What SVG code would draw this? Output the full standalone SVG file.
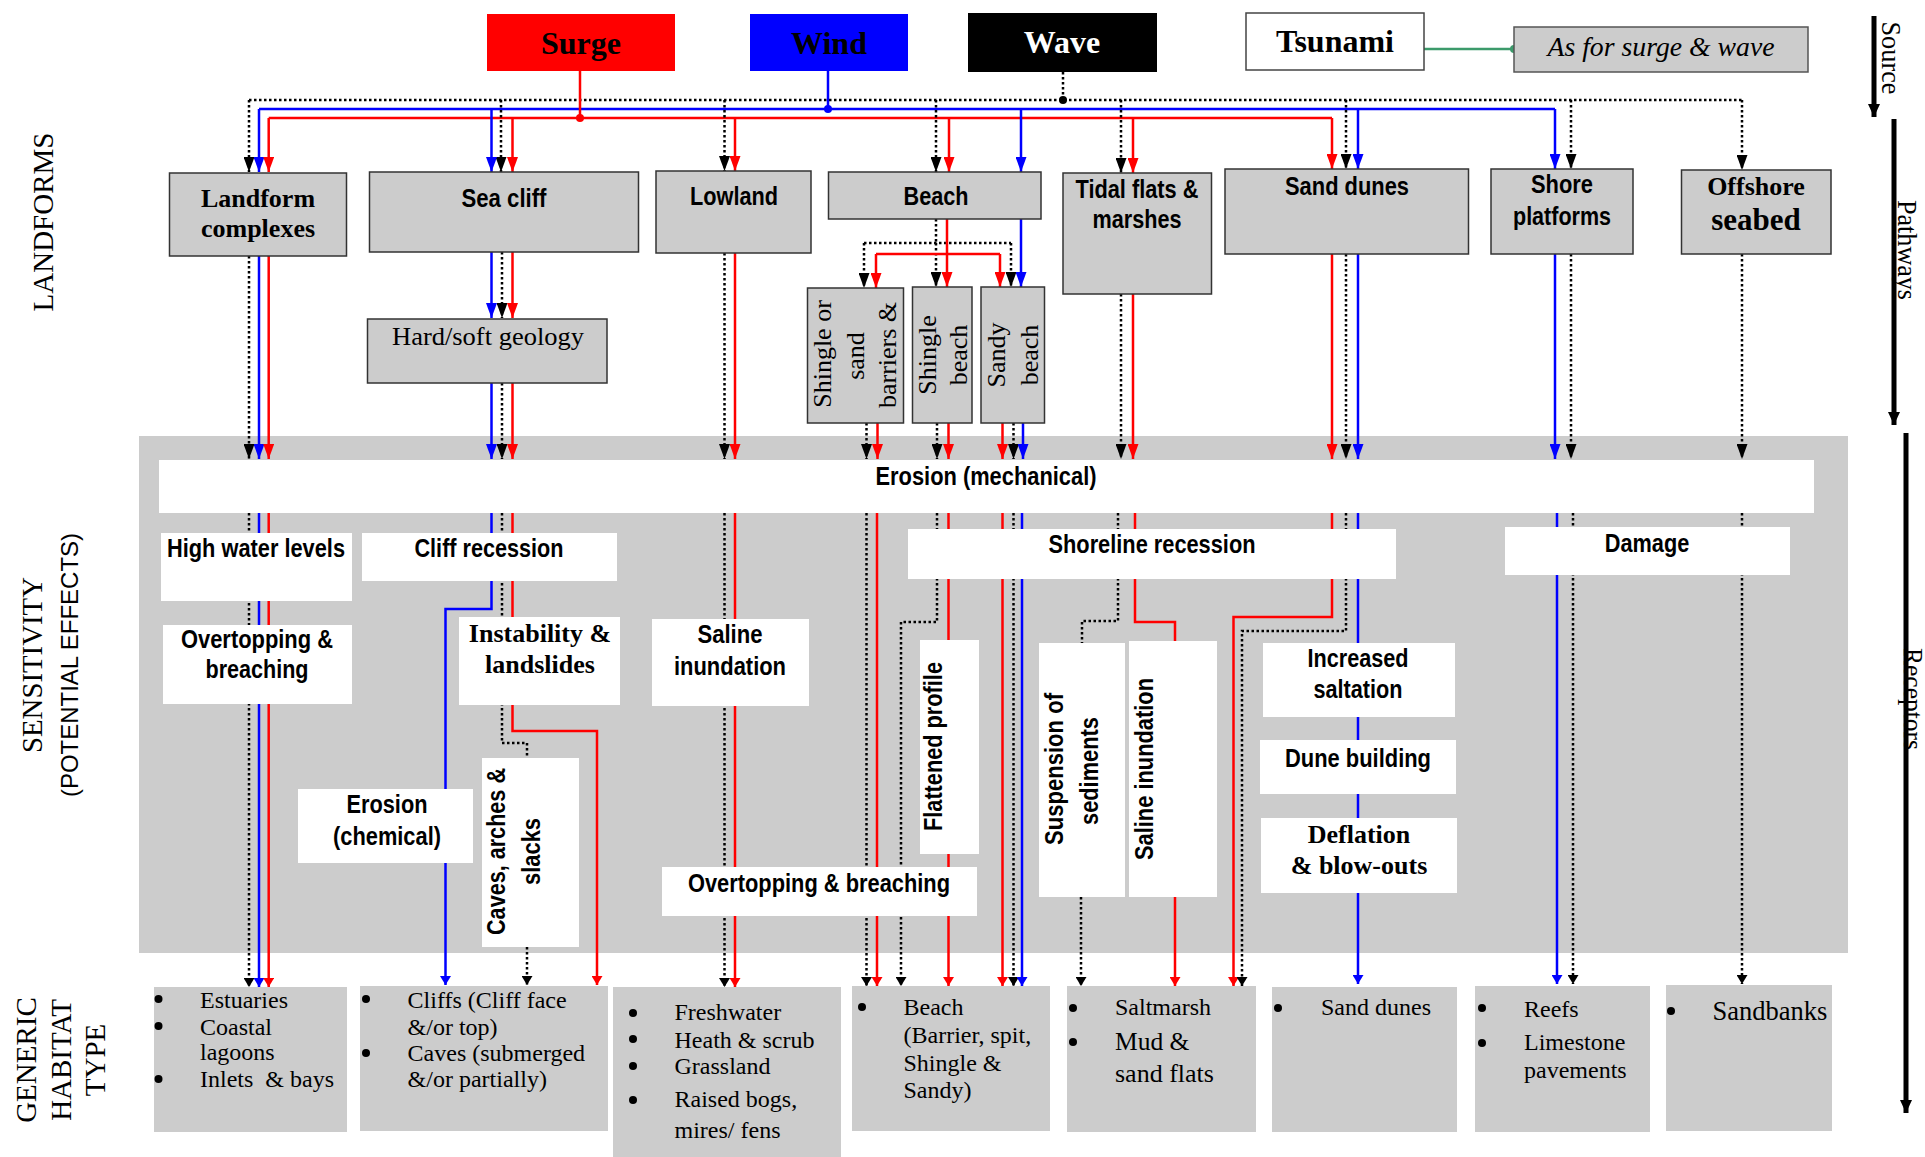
<svg xmlns="http://www.w3.org/2000/svg" width="1925" height="1157" viewBox="0 0 1925 1157">
<style>
.r{stroke:#f00;stroke-width:2.5;fill:none}
.b{stroke:#00f;stroke-width:2.5;fill:none}
.k{stroke:#000;stroke-width:2.5;fill:none;stroke-dasharray:2.5 2.5}
.ax{stroke:#000;stroke-width:5;fill:none}
.lf{fill:#ccc;stroke:#333;stroke-width:1.5}
.wb{fill:#fff}
.hb{fill:#ccc}
.sb{font-family:"Liberation Sans",Arial,sans-serif;font-weight:bold;font-size:25px;text-anchor:middle;fill:#000}
.tb{font-family:"Liberation Serif","Times New Roman",serif;font-weight:bold;font-size:26px;text-anchor:middle;fill:#000}
.tr{font-family:"Liberation Serif","Times New Roman",serif;font-size:26px;text-anchor:middle;fill:#000}
.src{font-family:"Liberation Serif","Times New Roman",serif;font-weight:bold;font-size:32px;text-anchor:middle}
.t{font-family:"Liberation Serif","Times New Roman",serif;font-size:24px;fill:#000}
.lab{font-family:"Liberation Serif","Times New Roman",serif;font-size:29px;text-anchor:middle;fill:#000}
.ax-lab{font-family:"Liberation Serif","Times New Roman",serif;font-size:27px;text-anchor:middle;fill:#000}
</style>
<defs>
<marker id="ar" viewBox="0 0 15 11" refX="15" refY="5.5" markerWidth="15" markerHeight="11" markerUnits="userSpaceOnUse" orient="auto"><path d="M0,0 L15,5.5 L0,11z" fill="#f00"/></marker>
<marker id="ab" viewBox="0 0 15 11" refX="15" refY="5.5" markerWidth="15" markerHeight="11" markerUnits="userSpaceOnUse" orient="auto"><path d="M0,0 L15,5.5 L0,11z" fill="#00f"/></marker>
<marker id="ak" viewBox="0 0 15 11" refX="15" refY="5.5" markerWidth="15" markerHeight="11" markerUnits="userSpaceOnUse" orient="auto"><path d="M0,0 L15,5.5 L0,11z" fill="#000"/></marker>
<marker id="sr" viewBox="0 0 9 11" refX="9" refY="5.5" markerWidth="9" markerHeight="11" markerUnits="userSpaceOnUse" orient="auto"><path d="M0,0 L9,5.5 L0,11z" fill="#f00"/></marker>
<marker id="sbm" viewBox="0 0 9 11" refX="9" refY="5.5" markerWidth="9" markerHeight="11" markerUnits="userSpaceOnUse" orient="auto"><path d="M0,0 L9,5.5 L0,11z" fill="#00f"/></marker>
<marker id="sk" viewBox="0 0 9 11" refX="9" refY="5.5" markerWidth="9" markerHeight="11" markerUnits="userSpaceOnUse" orient="auto"><path d="M0,0 L9,5.5 L0,11z" fill="#000"/></marker>
<marker id="big" viewBox="0 0 13 12" refX="13" refY="6" markerWidth="13" markerHeight="12" markerUnits="userSpaceOnUse" orient="auto"><path d="M0,0 L13,6 L0,12z" fill="#000"/></marker>
</defs>
<rect width="1925" height="1157" fill="#fff"/>

<g id="sensitivity-band"><rect x="139" y="436" width="1709" height="517" fill="#ccc"/></g>

<g id="habitats">
<g id="h-estuaries"><rect class="hb" x="154" y="987" width="193" height="145"/>
<circle cx="158.5" cy="999" r="4"/><circle cx="158.5" cy="1026" r="4"/><circle cx="158.5" cy="1079" r="4"/>
<text class="t" x="200" y="1008">Estuaries</text><text class="t" x="200" y="1035">Coastal</text><text class="t" x="200" y="1060">lagoons</text><text class="t" x="200" y="1087">Inlets&#160; &amp; bays</text></g>
<g id="h-cliffs"><rect class="hb" x="360" y="986" width="248" height="145"/>
<circle cx="366" cy="999" r="4"/><circle cx="366" cy="1053" r="4"/>
<text class="t" x="407.6" y="1008">Cliffs (Cliff face</text><text class="t" x="407.6" y="1035">&amp;/or top)</text><text class="t" x="407.6" y="1061">Caves (submerged</text><text class="t" x="407.6" y="1087">&amp;/or partially)</text></g>
<g id="h-freshwater"><rect class="hb" x="613" y="987" width="228" height="170"/>
<circle cx="633" cy="1013" r="4"/><circle cx="633" cy="1039" r="4"/><circle cx="633" cy="1066" r="4"/><circle cx="633" cy="1100" r="4"/>
<text class="t" x="674.5" y="1020">Freshwater</text><text class="t" x="674.5" y="1048">Heath &amp; scrub</text><text class="t" x="674.5" y="1074">Grassland</text><text class="t" x="674.5" y="1107">Raised bogs,</text><text class="t" x="674.5" y="1138">mires/ fens</text></g>
<g id="h-beach"><rect class="hb" x="852" y="986" width="198" height="145"/>
<circle cx="862" cy="1007" r="4"/>
<text class="t" x="903.5" y="1015">Beach</text><text class="t" x="903.5" y="1043">(Barrier, spit,</text><text class="t" x="903.5" y="1071">Shingle &amp;</text><text class="t" x="903.5" y="1098">Sandy)</text></g>
<g id="h-saltmarsh"><rect class="hb" x="1067" y="986" width="189" height="146"/>
<circle cx="1073" cy="1008" r="4"/><circle cx="1073" cy="1042" r="4"/>
<text class="t" x="1115" y="1015">Saltmarsh</text><text class="t" x="1115" y="1050" style="font-size:25.5px">Mud &amp;</text><text class="t" x="1115" y="1082" style="font-size:26px">sand flats</text></g>
<g id="h-sanddunes"><rect class="hb" x="1272" y="987" width="185" height="145"/>
<circle cx="1278" cy="1008" r="4"/>
<text class="t" x="1321" y="1015">Sand dunes</text></g>
<g id="h-reefs"><rect class="hb" x="1475" y="986" width="175" height="146"/>
<circle cx="1482" cy="1008" r="4"/><circle cx="1482" cy="1043" r="4"/>
<text class="t" x="1524" y="1017">Reefs</text><text class="t" x="1524" y="1050">Limestone</text><text class="t" x="1524" y="1078">pavements</text></g>
<g id="h-sandbanks"><rect class="hb" x="1666" y="985" width="166" height="146"/>
<circle cx="1671" cy="1011" r="4"/>
<text class="t" x="1712.5" y="1020" style="font-size:26.5px">Sandbanks</text></g>
</g>

<g id="connectors">
<path class="k" d="M249,100 H1742"/>
<path class="k" d="M1063,72 V100"/>
<path class="b" d="M259,109 H1555"/>
<path class="b" d="M828,71 V109"/>
<path class="r" d="M268.7,118 H1332"/>
<path class="r" d="M580,71 V118"/>
<path d="M1424,49 H1514" stroke="#3c9a6b" stroke-width="2.5" fill="none"/>
<circle cx="1514" cy="49" r="4" fill="#3c9a6b"/>
<circle cx="580" cy="118" r="4" fill="#f00"/>
<circle cx="828" cy="109" r="4" fill="#00f"/>
<circle cx="1063" cy="100" r="4" fill="#000"/>
<path class="k" marker-end="url(#ak)" d="M249,100 V172"/>
<path class="k" marker-end="url(#ak)" d="M501,100 V172"/>
<path class="k" marker-end="url(#ak)" d="M724.5,100 V171"/>
<path class="k" marker-end="url(#ak)" d="M936,100 V172"/>
<path class="k" marker-end="url(#ak)" d="M1121,100 V173"/>
<path class="k" marker-end="url(#ak)" d="M1346,100 V169"/>
<path class="k" marker-end="url(#ak)" d="M1571,100 V169"/>
<path class="k" marker-end="url(#ak)" d="M1742,100 V170"/>
<path class="b" marker-end="url(#ab)" d="M259,109 V172"/>
<path class="b" marker-end="url(#ab)" d="M491.5,109 V172"/>
<path class="b" marker-end="url(#ab)" d="M1021,109 V172"/>
<path class="b" marker-end="url(#ab)" d="M1358,109 V169"/>
<path class="b" marker-end="url(#ab)" d="M1555,109 V169"/>
<path class="r" marker-end="url(#ar)" d="M268.7,118 V172"/>
<path class="r" marker-end="url(#ar)" d="M512.5,118 V172"/>
<path class="r" marker-end="url(#ar)" d="M735,118 V171"/>
<path class="r" marker-end="url(#ar)" d="M949,118 V172"/>
<path class="r" marker-end="url(#ar)" d="M1133,118 V173"/>
<path class="r" marker-end="url(#ar)" d="M1332,118 V169"/>
<path class="b" marker-end="url(#ab)" d="M491.5,252 V318"/>
<path class="k" marker-end="url(#ak)" d="M502,252 V318"/>
<path class="r" marker-end="url(#ar)" d="M512.5,252 V318"/>
<path class="k" d="M936,219 V243 M864,243 H1011"/>
<path class="k" marker-end="url(#ak)" d="M864,243 V288"/>
<path class="k" marker-end="url(#ak)" d="M936,243 V287"/>
<path class="k" marker-end="url(#ak)" d="M1011,243 V287"/>
<path class="r" d="M947,219 V254 M876,254 H1000"/>
<path class="r" marker-end="url(#ar)" d="M876,254 V288"/>
<path class="r" marker-end="url(#ar)" d="M947,254 V287"/>
<path class="r" marker-end="url(#ar)" d="M1000,254 V287"/>
<path class="b" marker-end="url(#ab)" d="M1021,219 V287"/>
<path class="k" marker-end="url(#ak)" d="M249,256 V459"/>
<path class="b" marker-end="url(#ab)" d="M259,256 V459"/>
<path class="r" marker-end="url(#ar)" d="M268.7,256 V459"/>
<path class="b" marker-end="url(#ab)" d="M491.5,383 V459"/>
<path class="k" marker-end="url(#ak)" d="M502,383 V459"/>
<path class="r" marker-end="url(#ar)" d="M512.5,383 V459"/>
<path class="k" marker-end="url(#ak)" d="M724.5,253 V459"/>
<path class="r" marker-end="url(#ar)" d="M735,253 V459"/>
<path class="k" marker-end="url(#ak)" d="M866.5,423 V459"/>
<path class="r" marker-end="url(#ar)" d="M877.5,423 V459"/>
<path class="k" marker-end="url(#ak)" d="M937,423 V459"/>
<path class="r" marker-end="url(#ar)" d="M948.5,423 V459"/>
<path class="r" marker-end="url(#ar)" d="M1002.5,423 V459"/>
<path class="k" marker-end="url(#ak)" d="M1013.5,423 V459"/>
<path class="b" marker-end="url(#ab)" d="M1023,423 V459"/>
<path class="k" marker-end="url(#ak)" d="M1121,294 V459"/>
<path class="r" marker-end="url(#ar)" d="M1133,294 V459"/>
<path class="r" marker-end="url(#ar)" d="M1332,254 V459"/>
<path class="k" marker-end="url(#ak)" d="M1346,254 V459"/>
<path class="b" marker-end="url(#ab)" d="M1358,254 V459"/>
<path class="b" marker-end="url(#ab)" d="M1555,254 V459"/>
<path class="k" marker-end="url(#ak)" d="M1571,254 V459"/>
<path class="k" marker-end="url(#ak)" d="M1742,254 V459"/>
<path class="k" marker-end="url(#sk)" d="M249,513 V987"/>
<path class="b" marker-end="url(#sbm)" d="M259,513 V987"/>
<path class="r" marker-end="url(#sr)" d="M268.7,513 V987"/>
<path class="b" marker-end="url(#sbm)" d="M491.5,513 V609 H445.5 V985"/>
<path class="k" d="M502,513 V743 H527 V760"/>
<path class="k" marker-end="url(#sk)" d="M527,947 V985"/>
<path class="r" marker-end="url(#sr)" d="M512.5,513 V731 H597 V985"/>
<path class="k" marker-end="url(#sk)" d="M724.5,513 V987"/>
<path class="r" marker-end="url(#sr)" d="M735,513 V987"/>
<path class="k" marker-end="url(#sk)" d="M866.5,513 V986"/>
<path class="r" marker-end="url(#sr)" d="M877,513 V986"/>
<path class="k" marker-end="url(#sk)" d="M937,513 V622 H901 V986"/>
<path class="r" marker-end="url(#sr)" d="M948.5,513 V986"/>
<path class="r" marker-end="url(#sr)" d="M1002.5,513 V986"/>
<path class="k" marker-end="url(#sk)" d="M1013.5,513 V986"/>
<path class="b" marker-end="url(#sbm)" d="M1022,513 V986"/>
<path class="k" d="M1118,513 V621 H1082 V645"/>
<path class="k" marker-end="url(#sk)" d="M1081,897 V986"/>
<path class="r" d="M1135,513 V622 H1175 V643"/>
<path class="r" marker-end="url(#sr)" d="M1175,897 V986"/>
<path class="r" marker-end="url(#sr)" d="M1332,513 V617 H1233.5 V986"/>
<path class="k" marker-end="url(#sk)" d="M1346,513 V631 H1242 V986"/>
<path class="b" marker-end="url(#sbm)" d="M1358,513 V984"/>
<path class="b" marker-end="url(#sbm)" d="M1557,513 V984"/>
<path class="k" marker-end="url(#sk)" d="M1573,513 V984"/>
<path class="k" marker-end="url(#sk)" d="M1742,513 V984"/>
</g>

<g id="effects">
<g id="e-erosion-mech"><rect class="wb" x="159" y="460" width="1655" height="53"/><text class="sb" x="986" y="485" textLength="221" lengthAdjust="spacingAndGlyphs">Erosion (mechanical)</text></g>
<g id="e-high-water"><rect class="wb" x="161" y="533" width="191" height="68"/><text class="sb" x="256" y="557" textLength="178" lengthAdjust="spacingAndGlyphs">High water levels</text></g>
<g id="e-overtopping-1"><rect class="wb" x="163" y="625" width="189" height="79"/><text class="sb" x="257" y="648" textLength="152" lengthAdjust="spacingAndGlyphs">Overtopping &amp;</text><text class="sb" x="257" y="678" textLength="103" lengthAdjust="spacingAndGlyphs">breaching</text></g>
<g id="e-cliff-recession"><rect class="wb" x="362" y="533" width="255" height="48"/><text class="sb" x="489" y="557" textLength="149" lengthAdjust="spacingAndGlyphs">Cliff recession</text></g>
<g id="e-instability"><rect class="wb" x="459" y="617" width="161" height="88"/><text class="tb" x="540" y="642">Instability &amp;</text><text class="tb" x="540" y="673">landslides</text></g>
<g id="e-saline-1"><rect class="wb" x="652" y="619" width="157" height="87"/><text class="sb" x="730" y="643" textLength="65" lengthAdjust="spacingAndGlyphs">Saline</text><text class="sb" x="730" y="675" textLength="112" lengthAdjust="spacingAndGlyphs">inundation</text></g>
<g id="e-erosion-chem"><rect class="wb" x="298" y="789" width="175" height="74"/><text class="sb" x="387" y="813" textLength="81" lengthAdjust="spacingAndGlyphs">Erosion</text><text class="sb" x="387" y="845" textLength="108" lengthAdjust="spacingAndGlyphs">(chemical)</text></g>
<g id="e-caves"><rect class="wb" x="482" y="758" width="97" height="189"/><text class="sb" transform="translate(505,851.5) rotate(-90)" textLength="167" lengthAdjust="spacingAndGlyphs">Caves, arches &amp;</text><text class="sb" transform="translate(540,851.5) rotate(-90)" textLength="67" lengthAdjust="spacingAndGlyphs">slacks</text></g>
<g id="e-shoreline"><rect class="wb" x="908" y="529" width="488" height="50"/><text class="sb" x="1152" y="553" textLength="207" lengthAdjust="spacingAndGlyphs">Shoreline recession</text></g>
<g id="e-flattened"><rect class="wb" x="920" y="640" width="59" height="214"/><text class="sb" transform="translate(942,746.5) rotate(-90)" textLength="169" lengthAdjust="spacingAndGlyphs">Flattened profile</text></g>
<g id="e-overtopping-2"><rect class="wb" x="662" y="867" width="315" height="49"/><text class="sb" x="819" y="892" textLength="262" lengthAdjust="spacingAndGlyphs">Overtopping &amp; breaching</text></g>
<g id="e-suspension"><rect class="wb" x="1039" y="643" width="86" height="254"/><text class="sb" transform="translate(1063,769) rotate(-90)" textLength="152" lengthAdjust="spacingAndGlyphs">Suspension of</text><text class="sb" transform="translate(1098,771) rotate(-90)" textLength="108" lengthAdjust="spacingAndGlyphs">sediments</text></g>
<g id="e-saline-2"><rect class="wb" x="1129" y="641" width="88" height="256"/><text class="sb" transform="translate(1153,769) rotate(-90)" textLength="182" lengthAdjust="spacingAndGlyphs">Saline inundation</text></g>
<g id="e-saltation"><rect class="wb" x="1263" y="643" width="192" height="74"/><text class="sb" x="1358" y="667" textLength="101" lengthAdjust="spacingAndGlyphs">Increased</text><text class="sb" x="1358" y="698" textLength="89" lengthAdjust="spacingAndGlyphs">saltation</text></g>
<g id="e-dune-building"><rect class="wb" x="1260" y="740" width="196" height="54"/><text class="sb" x="1358" y="767" textLength="146" lengthAdjust="spacingAndGlyphs">Dune building</text></g>
<g id="e-deflation"><rect class="wb" x="1261" y="818" width="196" height="75"/><text class="tb" x="1359" y="843">Deflation</text><text class="tb" x="1359" y="874">&amp; blow-outs</text></g>
<g id="e-damage"><rect class="wb" x="1505" y="527" width="285" height="48"/><text class="sb" x="1647" y="552" textLength="84.5" lengthAdjust="spacingAndGlyphs">Damage</text></g>
</g>

<g id="landforms">
<g id="l-complexes"><rect class="lf" x="169.5" y="173" width="177" height="83"/><text class="tb" x="258" y="207">Landform</text><text class="tb" x="258" y="237">complexes</text></g>
<g id="l-seacliff"><rect class="lf" x="369.5" y="172" width="269" height="80"/><text class="sb" x="504" y="207" textLength="85" lengthAdjust="spacingAndGlyphs">Sea cliff</text></g>
<g id="l-geology"><rect class="lf" x="367.5" y="319" width="239.5" height="64"/><text class="tr" x="488" y="345" textLength="192" lengthAdjust="spacingAndGlyphs">Hard/soft geology</text></g>
<g id="l-lowland"><rect class="lf" x="656" y="171" width="155" height="82"/><text class="sb" x="734" y="205" textLength="88" lengthAdjust="spacingAndGlyphs">Lowland</text></g>
<g id="l-beach"><rect class="lf" x="828.5" y="172" width="212.5" height="47"/><text class="sb" x="936" y="205" textLength="65" lengthAdjust="spacingAndGlyphs">Beach</text></g>
<g id="l-barriers"><rect class="lf" x="807.5" y="288" width="96" height="135"/><text class="tr" transform="translate(831,354) rotate(-90)">Shingle or</text><text class="tr" transform="translate(864,356) rotate(-90)">sand</text><text class="tr" transform="translate(895.6,355) rotate(-90)">barriers &amp;</text></g>
<g id="l-shingle"><rect class="lf" x="912.5" y="287" width="59.5" height="136"/><text class="tr" transform="translate(936,355) rotate(-90)">Shingle</text><text class="tr" transform="translate(967,355) rotate(-90)">beach</text></g>
<g id="l-sandy"><rect class="lf" x="981" y="287" width="63.5" height="136"/><text class="tr" transform="translate(1005,355) rotate(-90)">Sandy</text><text class="tr" transform="translate(1038,355) rotate(-90)">beach</text></g>
<g id="l-tidal"><rect class="lf" x="1063" y="173" width="148.5" height="121"/><text class="sb" x="1137" y="198" textLength="123" lengthAdjust="spacingAndGlyphs">Tidal flats &amp;</text><text class="sb" x="1137" y="228" textLength="89" lengthAdjust="spacingAndGlyphs">marshes</text></g>
<g id="l-sanddunes"><rect class="lf" x="1225" y="169" width="243.5" height="85"/><text class="sb" x="1347" y="195" textLength="124" lengthAdjust="spacingAndGlyphs">Sand dunes</text></g>
<g id="l-shore"><rect class="lf" x="1491" y="169" width="142" height="85"/><text class="sb" x="1562" y="193" textLength="62" lengthAdjust="spacingAndGlyphs">Shore</text><text class="sb" x="1562" y="225" textLength="98" lengthAdjust="spacingAndGlyphs">platforms</text></g>
<g id="l-offshore"><rect class="lf" x="1681.5" y="170" width="149.5" height="84"/><text class="tb" x="1756" y="195">Offshore</text><text class="tb" x="1756" y="230" style="font-size:31px">seabed</text></g>
</g>

<g id="sources">
<g id="s-surge"><rect x="487" y="14" width="188" height="57" fill="#f00"/><text class="src" x="581" y="54" fill="#000">Surge</text></g>
<g id="s-wind"><rect x="750" y="14" width="158" height="57" fill="#00f"/><text class="src" x="829" y="54" fill="#000">Wind</text></g>
<g id="s-wave"><rect x="968" y="13" width="189" height="59" fill="#000"/><text class="src" x="1062" y="53" fill="#fff">Wave</text></g>
<g id="s-tsunami"><rect x="1246" y="13" width="178" height="57" fill="#fff" stroke="#444" stroke-width="1.5"/><text class="src" x="1335" y="52" fill="#000">Tsunami</text></g>
<g id="s-asfor"><rect x="1514" y="27" width="294" height="45" fill="#ccc" stroke="#555" stroke-width="1.5"/><text x="1661" y="56" font-family="'Liberation Serif','Times New Roman',serif" font-style="italic" font-size="27" text-anchor="middle" textLength="227" lengthAdjust="spacingAndGlyphs">As for surge &amp; wave</text></g>
</g>

<g id="axis-labels">
<text class="lab" transform="translate(53,222) rotate(-90)" textLength="179" lengthAdjust="spacingAndGlyphs">LANDFORMS</text>
<text class="lab" transform="translate(42,665) rotate(-90)" textLength="176" lengthAdjust="spacingAndGlyphs">SENSITIVITY</text>
<text transform="translate(78,665) rotate(-90)" font-family="'Liberation Sans',Arial,sans-serif" font-size="24" text-anchor="middle" textLength="264" lengthAdjust="spacingAndGlyphs">(POTENTIAL EFFECTS)</text>
<text class="lab" transform="translate(36,1060) rotate(-90)">GENERIC</text>
<text class="lab" transform="translate(71,1060) rotate(-90)">HABITAT</text>
<text class="lab" transform="translate(105,1060) rotate(-90)">TYPE</text>
<path class="ax" marker-end="url(#big)" d="M1874,16 V117"/>
<path class="ax" marker-end="url(#big)" d="M1894,119 V425"/>
<path class="ax" marker-end="url(#big)" d="M1906,433 V1113"/>
<text class="ax-lab" transform="translate(1882,58) rotate(90)" textLength="73" lengthAdjust="spacingAndGlyphs">Source</text>
<text class="ax-lab" transform="translate(1898,250) rotate(90)" textLength="100" lengthAdjust="spacingAndGlyphs">Pathways</text>
<text class="ax-lab" transform="translate(1904,699) rotate(90)" textLength="102" lengthAdjust="spacingAndGlyphs">Receptors</text>
</g>
</svg>
